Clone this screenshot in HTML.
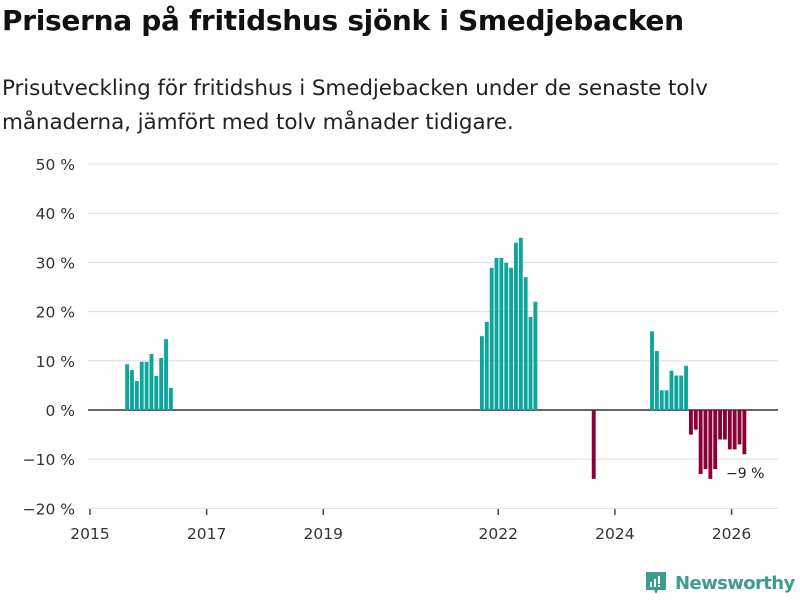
<!DOCTYPE html>
<html><head><meta charset="utf-8"><style>
body{margin:0;width:800px;height:600px;background:#fff;font-family:"DejaVu Sans","Liberation Sans",sans-serif;overflow:hidden;position:relative}
h1{position:absolute;left:2px;top:4px;margin:0;font-size:28px;font-weight:bold;color:#111;white-space:nowrap;letter-spacing:-0.3px}
p{position:absolute;left:2px;top:72px;margin:0;font-size:21.5px;line-height:34px;color:#222;white-space:nowrap;letter-spacing:-0.1px}
svg{position:absolute;left:0;top:0}
svg text{font-family:"DejaVu Sans","Liberation Sans",sans-serif}
</style></head><body>
<h1>Priserna på fritidshus sjönk i Smedjebacken</h1>
<p>Prisutveckling för fritidshus i Smedjebacken under de senaste tolv<br>månaderna, jämfört med tolv månader tidigare.</p>
<svg width="800" height="600" id="c"></svg>
<script>
const yTicks=[-20,-10,0,10,20,30,40,50];
const xTickYears=[2015,2017,2019,2022,2024,2026];
const g1Start=[2015,8], g1=[9.3,8.1,5.9,9.8,9.8,11.4,6.9,10.6,14.4,4.5];
const g2Start=[2021,9], g2=[15,17.9,28.9,30.9,30.9,29.9,28.9,34,35,27,18.9,22];
const g3Start=[2023,8], g3=[-14];
const g4Start=[2024,8], g4=[16,12,4,4,8,7,7,9,-5,-4,-13,-12,-14,-12,-6,-6,-8,-8,-7,-9];
const lastLabel="−9 %";
const NS="http://www.w3.org/2000/svg",svg=document.getElementById('c');
const mW=4.86;
const x=(yr,mo)=>90+((yr-2015)*12+(mo-1))*mW;
const y=v=>410-v*4.92;
function el(t,a,txt){const e=document.createElementNS(NS,t);for(const k in a)e.setAttribute(k,a[k]);if(txt!==undefined)e.textContent=txt;svg.appendChild(e);return e;}
yTicks.forEach(v=>{
 const l=el('line',{x1:88,x2:778,y1:y(v),y2:y(v),stroke:v===0?'#333':'#ddd','stroke-width':v===0?1.5:1});
 
 
 const t=el('text',{x:75,y:y(v)+6,'text-anchor':'end','font-size':15.5,fill:'#333'},(v<0?'−'+(-v):v)+' %');
 
 
});
xTickYears.forEach(yr=>{
 const tk=el('line',{x1:x(yr,1),x2:x(yr,1),y1:509,y2:515,stroke:'#444','stroke-width':1.5});
 
 
 const t=el('text',{x:x(yr,1),y:539,'text-anchor':'middle','font-size':15.5,fill:'#333'},yr);
 
 
});
function bars(start,vals){vals.forEach((v,i)=>{
 const m=start[1]-1+i, yr=start[0]+Math.floor(m/12), mo=m%12+1;
 const r=el('rect',{x:x(yr,mo)+1.2,width:mW-1,y:Math.min(y(v),y(0)),height:Math.abs(y(v)-y(0)),fill:v>=0?'#0ea59c':'#8c0038'});
 
 
});}
bars(g1Start,g1);bars(g2Start,g2);bars(g3Start,g3);bars(g4Start,g4);
const lt=el('text',{x:726,y:478,'font-size':14,fill:'#222'},lastLabel);


</script>
<div style="position:absolute;left:644px;top:570px;display:flex;align-items:center">
<svg width="24" height="26" style="position:static" viewBox="0 0 24 26"><path d="M2 2h20v18h-8l-2 4-2-4H2z" fill="#3d9c8e"/><rect x="6" y="12" width="2" height="5" fill="#fff"/><rect x="10" y="9" width="2" height="8" fill="#fff"/><rect x="14" y="6" width="2" height="8" fill="#fff"/><rect x="14" y="15" width="2" height="2" fill="#fff"/></svg>
<span style="font-size:18px;color:#3d9c8e;margin-left:7px;font-weight:bold;letter-spacing:-0.6px">Newsworthy</span></div>
</body></html>
